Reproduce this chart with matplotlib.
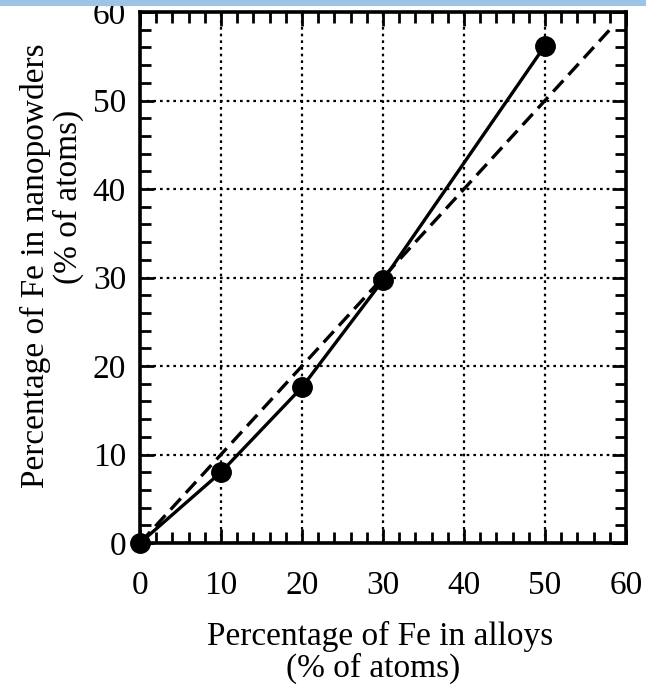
import matplotlib
matplotlib.use("Agg")
import matplotlib.pyplot as plt
from matplotlib.ticker import MultipleLocator
from matplotlib.patches import Rectangle

# Data
alloy_fe = [0, 10, 20, 30, 50]
nano_fe = [0, 8.0, 17.6, 29.7, 56.2]
ref_x = [0, 58]
ref_y = [0, 58]
x_ticks = [0, 10, 20, 30, 40, 50, 60]
y_ticks = [0, 10, 20, 30, 40, 50, 60]
xlabel_lines = ['Percentage of Fe in alloys', '(% of atoms)']
ylabel_lines = ['Percentage of Fe in nanopowders', '(% of atoms)']

plt.rcParams['font.family'] = ['Liberation Serif', 'DejaVu Serif']

W, H = 646, 686
fig = plt.figure(figsize=(W/100, H/100), dpi=100)
ax = fig.add_axes([140/W, 1-543/H, (626-140)/W, (543-12)/H])

ax.plot(ref_x, ref_y, color='black', lw=2.4, ls=(0, (4.5, 2.3)), zorder=3)
ax.plot(alloy_fe, nano_fe, color='black', lw=2.4, marker='o', ms=14, zorder=4, clip_on=False)

ax.set_xlim(0, 60)
ax.set_ylim(0, 60)
ax.set_xticks(x_ticks)
ax.set_yticks(y_ticks)
ax.xaxis.set_minor_locator(MultipleLocator(2))
ax.yaxis.set_minor_locator(MultipleLocator(2))
ax.tick_params(which='both', direction='in', top=True, right=True, width=2, colors='black')
ax.tick_params(which='major', length=10)
ax.tick_params(which='minor', length=8)
ax.tick_params(axis='x', which='major', pad=20, labelsize=24)
ax.tick_params(axis='y', which='major', pad=10, labelsize=24)

for s in ax.spines.values():
    s.set_linewidth(2.6)

ax.grid(True, which='major', color='black', ls=(0, (1.2, 1.8)), lw=1.6)

def fx(px):
    return px / W

def fy(py):
    return 1 - py / H

# x-axis label lines (baseline-anchored)
fig.text(fx(380), fy(645), xlabel_lines[0], fontsize=24, ha='center', va='baseline')
fig.text(fx(373), fy(677), xlabel_lines[1], fontsize=24, ha='center', va='baseline')

# y-axis label lines (rotated, baseline-anchored)
fig.text(fx(44), fy(266), ylabel_lines[0], fontsize=24, rotation=90,
         rotation_mode='anchor', ha='center', va='baseline')
fig.text(fx(77), fy(197), ylabel_lines[1], fontsize=24, rotation=90,
         rotation_mode='anchor', ha='center', va='baseline')

# top blue bar
fig.patches.append(Rectangle((0, 1-6/H), 1, 6/H, transform=fig.transFigure,
                             facecolor='#9dc3e6', edgecolor='none', zorder=10))

fig.savefig('out.png', dpi=100)
